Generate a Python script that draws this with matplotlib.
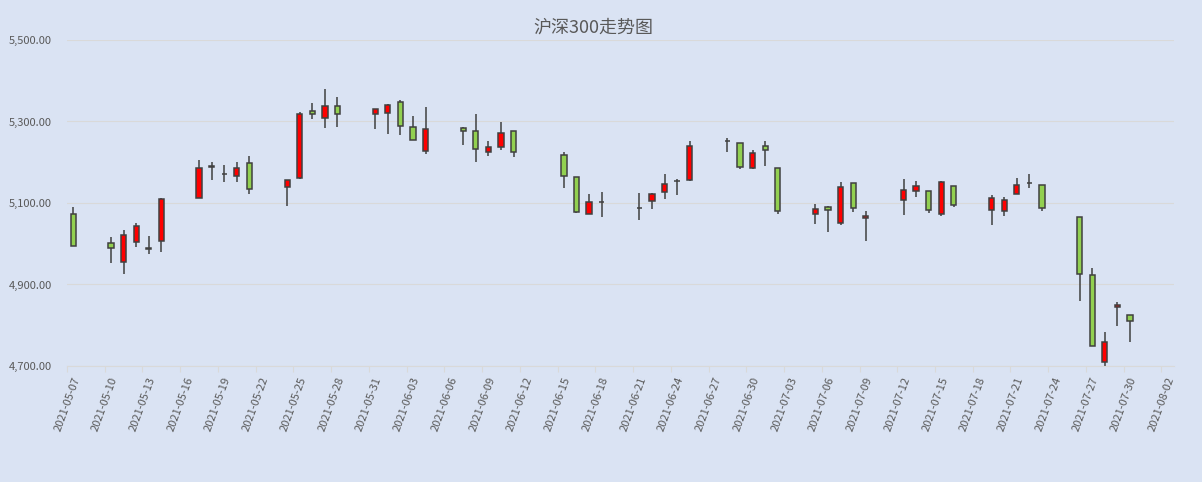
import matplotlib.pyplot as plt
import matplotlib.dates as mdates
import numpy as np
import pandas as pd

plt.rcParams['font.family'] = ['Noto Sans CJK SC', 'DejaVu Sans']

# CSI 300 daily candles
dates = ['2021-05-07', '2021-05-10', '2021-05-11', '2021-05-12', '2021-05-13', '2021-05-14',
         '2021-05-17', '2021-05-18', '2021-05-19', '2021-05-20', '2021-05-21',
         '2021-05-24', '2021-05-25', '2021-05-26', '2021-05-27', '2021-05-28',
         '2021-05-31', '2021-06-01', '2021-06-02', '2021-06-03', '2021-06-04',
         '2021-06-07', '2021-06-08', '2021-06-09', '2021-06-10', '2021-06-11',
         '2021-06-15', '2021-06-16', '2021-06-17', '2021-06-18',
         '2021-06-21', '2021-06-22', '2021-06-23', '2021-06-24', '2021-06-25',
         '2021-06-28', '2021-06-29', '2021-06-30', '2021-07-01', '2021-07-02',
         '2021-07-05', '2021-07-06', '2021-07-07', '2021-07-08', '2021-07-09',
         '2021-07-12', '2021-07-13', '2021-07-14', '2021-07-15', '2021-07-16',
         '2021-07-19', '2021-07-20', '2021-07-21', '2021-07-22', '2021-07-23',
         '2021-07-26', '2021-07-27', '2021-07-28', '2021-07-29', '2021-07-30']
opens = [5072, 5001, 4954, 5004, 4990, 5006,
         5113, 5188, 5171, 5166, 5197,
         5139, 5162, 5326, 5309, 5337,
         5318, 5320, 5347, 5286, 5227,
         5283, 5276, 5224, 5237, 5276,
         5217, 5163, 5072, 5102,
         5087, 5104, 5126, 5154, 5156,
         5252, 5247, 5187, 5239, 5185,
         5072, 5089, 5050, 5148, 5063,
         5107, 5129, 5129, 5072, 5141,
         5082, 5080, 5121, 5148, 5143,
         5065, 4923, 4711, 4844, 4824]
highs = [5091, 5017, 5033, 5050, 5020, 5112,
         5205, 5200, 5193, 5200, 5215,
         5156, 5323, 5345, 5379, 5359,
         5330, 5342, 5352, 5313, 5335,
         5286, 5318, 5251, 5298, 5277,
         5224, 5163, 5121, 5126,
         5124, 5124, 5170, 5158, 5251,
         5259, 5247, 5229, 5251, 5185,
         5097, 5092, 5151, 5148, 5080,
         5158, 5153, 5129, 5153, 5141,
         5119, 5114, 5161, 5170, 5143,
         5065, 4940, 4783, 4856, 4824]
lows = [4994, 4952, 4925, 4993, 4974, 4979,
        5113, 5156, 5151, 5151, 5122,
        5092, 5159, 5307, 5285, 5287,
        5281, 5269, 5266, 5254, 5220,
        5242, 5200, 5215, 5229, 5212,
        5136, 5075, 5072, 5065,
        5058, 5085, 5109, 5119, 5155,
        5224, 5183, 5184, 5190, 5072,
        5048, 5028, 5045, 5077, 5006,
        5070, 5114, 5075, 5067, 5089,
        5045, 5067, 5121, 5136, 5080,
        4859, 4748, 4699, 4797, 4758]
closes = [4994, 4990, 5021, 5043, 4988, 5109,
          5185, 5191, 5170, 5185, 5134,
          5156, 5318, 5319, 5337, 5319,
          5330, 5340, 5288, 5254, 5281,
          5276, 5232, 5237, 5271, 5224,
          5166, 5079, 5102, 5103,
          5088, 5121, 5146, 5155, 5239,
          5253, 5189, 5222, 5229, 5080,
          5085, 5082, 5139, 5087, 5067,
          5131, 5141, 5082, 5151, 5094,
          5112, 5107, 5143, 5150, 5087,
          4925, 4748, 4758, 4849, 4810]

title = '沪深300走势图'
bg = '#DAE3F3'
up_color = '#FF0000'
down_color = '#92D050'
edge = '#404040'
text_color = '#595959'

d = pd.to_datetime(dates)
x = mdates.date2num(d) + 0.5
o = np.array(opens, dtype=float)
c = np.array(closes, dtype=float)
bottoms = np.minimum(o, c)
heights = np.abs(c - o)
colors = [up_color if cc >= oo else down_color for oo, cc in zip(o, c)]

fig = plt.figure(figsize=(12.02, 4.82), dpi=100, facecolor=bg)
ax = fig.add_axes([67 / 1202, 1 - 366 / 482, (1174 - 67) / 1202, (366 - 40) / 482])
ax.set_facecolor(bg)

ax.vlines(x, lows, highs, color=edge, linewidth=1.1, zorder=2)
ax.bar(x, heights, bottom=bottoms, width=0.42, color=colors,
       edgecolor=edge, linewidth=1.1, zorder=3)

start = mdates.date2num(pd.Timestamp('2021-05-07'))
ax.set_xlim(start, start + 88)
ax.set_ylim(4700, 5500)
ax.set_yticks(np.arange(4700, 5501, 200))
ax.yaxis.set_major_formatter(plt.FuncFormatter(lambda v, p: f'{v:,.2f}'))

ticks = pd.date_range('2021-05-07', '2021-08-02', freq='3D')
ax.set_xticks(mdates.date2num(ticks))
ax.set_xticklabels([t.strftime('%Y-%m-%d') for t in ticks], rotation=70, ha='center')

ax.grid(axis='y', color='#D9D9D9', linewidth=0.8, zorder=0)
for s in ['top', 'right', 'left']:
    ax.spines[s].set_visible(False)
ax.spines['bottom'].set_color('#D9D9D9')
ax.tick_params(axis='y', length=0, pad=11, labelsize=8, labelcolor=text_color)
ax.tick_params(axis='x', length=4, color='#D9D9D9', pad=3, labelsize=8, labelcolor=text_color)

fig.text(593 / 1202, 1 - 28 / 482, title, ha='center', va='center',
         fontsize=13, color=text_color)

plt.savefig('out.png', dpi=100, facecolor=bg)
plt.close()
